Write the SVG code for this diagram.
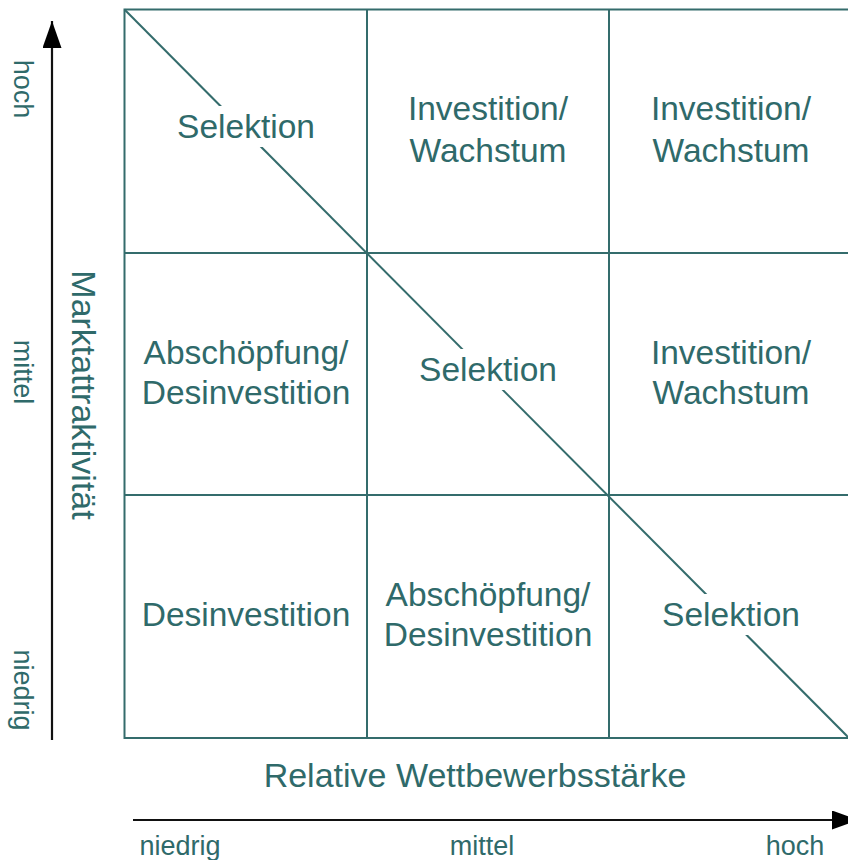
<svg xmlns="http://www.w3.org/2000/svg" width="848" height="860" viewBox="0 0 848 860">
  <style>
    .grid { stroke: #346c6c; stroke-width: 2; fill: none; }
    .axis { stroke: #111; stroke-width: 2.2; fill: none; }
    .cell { font-family: "Liberation Sans", Arial, sans-serif; font-size: 33.5px; fill: #2f6a6a; text-anchor: middle; }
    .title { font-family: "Liberation Sans", Arial, sans-serif; font-size: 34px; fill: #2f6a6a; text-anchor: middle; }
    .tick { font-family: "Liberation Sans", Arial, sans-serif; font-size: 27px; fill: #2f6a6a; text-anchor: middle; }
    .mask { fill: #ffffff; }
  </style>
  <defs>
    <marker id="arrow" markerUnits="userSpaceOnUse" markerWidth="28" markerHeight="20" refX="27" refY="9.5" orient="auto">
      <path d="M0,0 L27,9.5 L0,19 Z" fill="#000"/>
    </marker>
  </defs>

  <rect width="848" height="860" fill="#ffffff"/>

  <!-- matrix frame, grid and diagonal -->
  <g id="connectors">
    <rect class="grid" x="124.5" y="9.5" width="727" height="728.5"/>
    <line class="grid" x1="367" y1="9.5" x2="367" y2="738"/>
    <line class="grid" x1="609" y1="9.5" x2="609" y2="738"/>
    <line class="grid" x1="124.5" y1="253" x2="851.5" y2="253"/>
    <line class="grid" x1="124.5" y1="495" x2="851.5" y2="495"/>
    <line class="grid" x1="124.5" y1="9.5" x2="849" y2="738"/>
    <!-- axes -->
    <line class="axis" x1="52" y1="740" x2="52" y2="21" marker-end="url(#arrow)"/>
    <line class="axis" x1="133" y1="820" x2="859" y2="820" marker-end="url(#arrow)"/>
  </g>

  <!-- row 1 -->
  <g id="cell-1-1">
    <rect class="mask" x="170" y="106" width="150" height="41"/>
    <text class="cell" x="246" y="138">Selektion</text>
  </g>
  <g id="cell-1-2">
    <text class="cell" x="488" y="120">Investition/</text>
    <text class="cell" x="488" y="162">Wachstum</text>
  </g>
  <g id="cell-1-3">
    <text class="cell" x="731" y="120">Investition/</text>
    <text class="cell" x="731" y="162">Wachstum</text>
  </g>

  <!-- row 2 -->
  <g id="cell-2-1">
    <text class="cell" x="246" y="364">Abschöpfung/</text>
    <text class="cell" x="246" y="404">Desinvestition</text>
  </g>
  <g id="cell-2-2">
    <rect class="mask" x="412" y="349" width="152" height="41"/>
    <text class="cell" x="488" y="381">Selektion</text>
  </g>
  <g id="cell-2-3">
    <text class="cell" x="731" y="364">Investition/</text>
    <text class="cell" x="731" y="404">Wachstum</text>
  </g>

  <!-- row 3 -->
  <g id="cell-3-1">
    <text class="cell" x="246" y="626">Desinvestition</text>
  </g>
  <g id="cell-3-2">
    <text class="cell" x="488" y="606">Abschöpfung/</text>
    <text class="cell" x="488" y="646">Desinvestition</text>
  </g>
  <g id="cell-3-3">
    <rect class="mask" x="655" y="594" width="152" height="41"/>
    <text class="cell" x="731" y="626">Selektion</text>
  </g>

  <!-- axis titles -->
  <g id="y-title">
    <text class="title" x="72" y="395" transform="rotate(90 72 395)">Marktattraktivität</text>
  </g>
  <g id="x-title">
    <text class="title" x="475" y="787">Relative Wettbewerbsstärke</text>
  </g>

  <!-- vertical scale -->
  <g id="y-ticks">
    <text class="tick" x="14" y="89" transform="rotate(90 14 89)">hoch</text>
    <text class="tick" x="14" y="372" transform="rotate(90 14 372)">mittel</text>
    <text class="tick" x="14" y="690" transform="rotate(90 14 690)">niedrig</text>
  </g>

  <!-- horizontal scale -->
  <g id="x-ticks">
    <text class="tick" x="180" y="855">niedrig</text>
    <text class="tick" x="482" y="855">mittel</text>
    <text class="tick" x="795" y="855">hoch</text>
  </g>
</svg>
